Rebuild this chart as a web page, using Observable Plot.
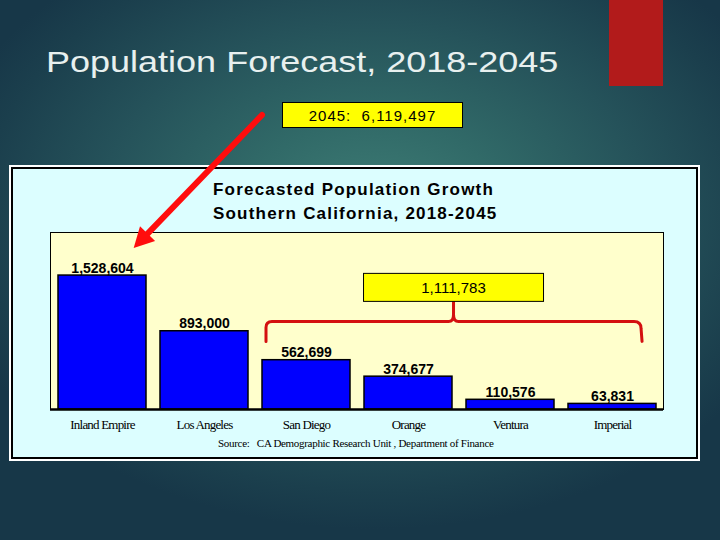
<!DOCTYPE html>
<html><head><meta charset="utf-8">
<script src="https://cdn.jsdelivr.net/npm/d3@7"></script>
<script src="https://cdn.jsdelivr.net/npm/@observablehq/plot@0.6"></script>
<style>
html,body{margin:0;padding:0;}
body{width:720px;height:540px;overflow:hidden;position:relative;
  background: radial-gradient(ellipse 62% 58% at 52% 40%, #3f7e76 0%, #316a68 30%, #25525a 62%, #1b3f4d 88%, #173748 100%);
  font-family:"Liberation Sans",Arial,sans-serif;}
.abs{position:absolute;}
#title{left:46px;top:47px;font-size:30px;line-height:1;color:#e8f0ef;white-space:nowrap;transform-origin:0 0;transform:scaleX(1.2);}
#redbar{left:609px;top:0;width:54px;height:86px;background:#b21b1b;}
#total{left:282px;top:102px;width:179px;height:24px;background:#ffff00;border:1px solid #000;font-size:15px;line-height:25px;text-align:center;white-space:pre;letter-spacing:1px;color:#000;}
#whitebox{left:9px;top:165px;width:691px;height:296px;background:#fff;}
#chartbox{left:11px;top:167px;width:687px;height:292px;box-sizing:border-box;border:2px solid #000;background:#dcfeff;}
#chart{left:13px;top:169px;}
.ctitle{left:213px;font-size:17px;line-height:1;font-weight:bold;color:#000;white-space:nowrap;letter-spacing:1.2px;}
#source{left:218px;top:438px;font-family:"Liberation Serif",serif;font-size:11px;line-height:1;color:#000;white-space:pre;letter-spacing:-0.3px;}
#overlay{left:0;top:0;}
</style></head>
<body>
<div id="title" class="abs">Population Forecast, 2018-2045</div>
<div id="redbar" class="abs"></div>
<div id="whitebox" class="abs"></div>
<div id="chartbox" class="abs"></div>
<div id="chart" class="abs"></div>
<div id="ct1" class="abs ctitle" style="top:181px">Forecasted Population Growth</div>
<div id="ct2" class="abs ctitle" style="top:205px">Southern California, 2018-2045</div>
<div id="source" class="abs">Source:   CA Demographic Research Unit , Department of Finance</div>
<div id="total" class="abs"></div>
<script>
// ---- data ----
const regions = ["Inland Empire", "Los Angeles", "San Diego", "Orange", "Ventura", "Imperial"];
const growth = [1528604, 893000, 562699, 374677, 110576, 63831];
const total2045Label = "2045:  6,119,497";
const bracketRegions = ["San Diego", "Orange", "Ventura", "Imperial"];
const yMax = 2020000;

const fmt = d3.format(",");
const data = regions.map((r, i) => ({region: r, value: growth[i]}));
const bracketSum = data.filter(d => bracketRegions.includes(d.region)).reduce((a, d) => a + d.value, 0);

document.getElementById("total").textContent = total2045Label;

const W = 683, H = 288;
const plot = Plot.plot({
  width: W, height: H,
  marginLeft: 37, marginRight: 33, marginTop: 63, marginBottom: 48,
  style: {background: "transparent", fontFamily: "Liberation Sans, Arial, sans-serif", color: "#000", overflow: "visible"},
  x: {domain: regions, paddingInner: 0.14, paddingOuter: 0.07, label: null},
  y: {domain: [0, yMax], axis: null},
  marks: [
    Plot.frame({fill: "#ffffcc", stroke: "#000", strokeWidth: 1}),
    Plot.barY(data, {x: "region", y: "value", fill: "#0000ff", stroke: "#000", strokeWidth: 1.5}),
    Plot.ruleY([0], {stroke: "#000", strokeWidth: 2.5}),
    Plot.text(data, {x: "region", y: "value", text: d => fmt(d.value), dy: -3, lineAnchor: "bottom",
      fontWeight: "bold", fontSize: 14, fill: "#000"}),
    Plot.axisX({tickSize: 0, tickPadding: 10, fontFamily: "Liberation Serif, serif", fontSize: 13, label: null})
  ]
});
document.getElementById("chart").appendChild(plot);
const svg = d3.select(plot);
svg.selectAll('[aria-label="x-axis tick label"] text').attr("letter-spacing", "-0.8");

// bracket annotation derived from scales
const sx = plot.scale("x"), sy = plot.scale("y");
const bw = sx.bandwidth;
const xl = sx.apply(bracketRegions[0]) + 4;
const xr = sx.apply(bracketRegions[bracketRegions.length - 1]) + bw * 0.83;
const hy = sy.apply(1000000);
const mx = (xl + xr) / 2;
const drop = 20, rise = 20;
const path = [
  `M${xl},${hy + drop} L${xl},${hy + 6} Q${xl},${hy} ${xl + 6},${hy}`,
  `L${mx - 5},${hy} Q${mx},${hy} ${mx},${hy - 7} L${mx},${hy - rise}`,
  `M${mx},${hy - 7} Q${mx},${hy} ${mx + 5},${hy} L${xr - 7},${hy} Q${xr},${hy} ${xr},${hy + 7} L${xr + 1},${hy + drop}`
].join(" ");
svg.append("path").attr("d", path).attr("fill", "none").attr("stroke", "#d41010").attr("stroke-width", 3)
  .attr("stroke-linejoin", "round").attr("stroke-linecap", "round");
const bxW = 180, bxH = 28;
svg.append("rect").attr("x", mx - bxW / 2).attr("y", hy - rise - bxH).attr("width", bxW).attr("height", bxH)
  .attr("fill", "#ffff00").attr("stroke", "#000").attr("stroke-width", 1);
svg.append("text").attr("x", mx).attr("y", hy - rise - 8.5).attr("text-anchor", "middle")
  .attr("font-size", 15).attr("font-family", "Liberation Sans, Arial, sans-serif").attr("fill", "#000")
  .text(fmt(bracketSum));

// arrow overlay (page coordinates)
const ox = 13, oy = 169;
const tip = [ox + sx.apply(regions[0]) + bw * 0.86, oy + sy.apply(growth[0]) - 27];
const start = [262, 115];
const dx = tip[0] - start[0], dyv = tip[1] - start[1];
const L = Math.hypot(dx, dyv), ux = dx / L, uy = dyv / L;
const headL = 20, headW = 10.5;
const base = [tip[0] - headL * ux, tip[1] - headL * uy];
const nx = -uy, ny = ux;
const ov = d3.select("body").append("svg").attr("id", "overlay").attr("class", "abs")
  .attr("width", 720).attr("height", 540).style("position", "absolute").style("left", 0).style("top", 0);
ov.append("line").attr("x1", start[0]).attr("y1", start[1]).attr("x2", base[0] + ux * 2).attr("y2", base[1] + uy * 2)
  .attr("stroke", "#ff0d0d").attr("stroke-width", 6).attr("stroke-linecap", "round");
ov.append("polygon").attr("points", [tip, [base[0] + headW * nx, base[1] + headW * ny], [base[0] - headW * nx, base[1] - headW * ny]].map(p => p.join(",")).join(" "))
  .attr("fill", "#ff0d0d");
</script>
</body></html>
